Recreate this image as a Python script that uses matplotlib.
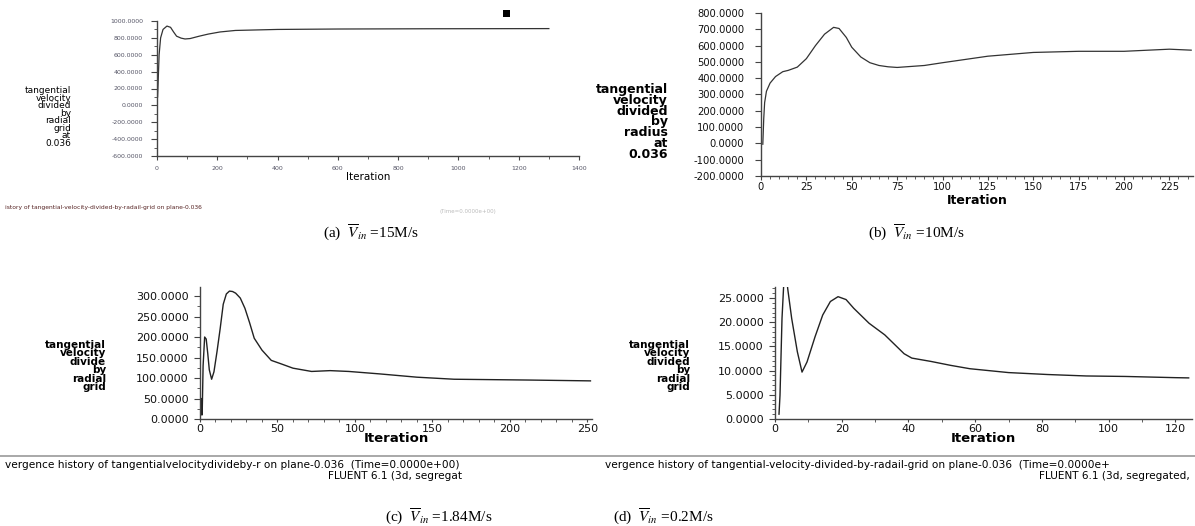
import numpy as np
import matplotlib
matplotlib.use("Agg")
import matplotlib.pyplot as plt
from matplotlib.ticker import MultipleLocator, FormatStrFormatter
from matplotlib.patches import Rectangle

plt.rcParams['font.family'] = ['DejaVu Sans']
plt.rcParams['mathtext.fontset'] = 'stix'

W, H = 1195, 526

# panel (a): V_in = 15 M/s
iter_a = [2, 4, 7, 12, 20, 33, 45, 55, 65, 80, 93, 110, 140, 170, 209, 260, 400, 600, 900, 1300]
vel_a = [100, 300, 600, 800, 900, 940, 925, 870, 820, 797, 787, 792, 820, 845, 870, 888, 900, 905, 908, 910]

# panel (b): V_in = 10 M/s
iter_b = [1, 1.5, 2, 3, 5, 8, 12, 15, 20, 25, 30, 35, 40, 43, 47, 50, 55, 60, 65, 70, 75, 90, 100, 125, 150, 175, 200, 225, 237]
vel_b = [-5, 150, 250, 320, 370, 410, 440, 448, 468, 520, 600, 670, 712, 705, 650, 590, 530, 495, 478, 470, 466, 478, 495, 535, 558, 565, 565, 578, 572]

# panel (c): V_in = 1.84 M/s
iter_c = [0.5, 1, 1.4, 2, 3, 4, 5, 6, 7.5, 9, 11, 13, 15, 17, 19, 21, 23, 26, 29, 32, 35, 40, 46, 52, 60, 72, 84, 96, 116, 140, 164, 213, 252]
vel_c = [10, 50, 10, 130, 200, 195, 160, 120, 97, 115, 165, 220, 280, 305, 312, 311, 307, 295, 270, 235, 197, 168, 143, 135, 124, 116, 118, 116, 110, 102, 97, 95, 93]

# panel (d): V_in = 0.2 M/s
iter_d = [1.2, 1.5, 2.1, 2.7, 3.3, 3.8, 5, 6.7, 8.1, 9.6, 12, 14.3, 16.6, 18.9, 21.3, 23.6, 28.2, 32.9, 38.7, 41, 46.8, 52.6, 58.4, 70, 81.7, 93.3, 105, 120, 124]
vel_d = [1.0, 4.9, 20.8, 29, 31, 27, 20.8, 13.9, 9.7, 11.8, 17, 21.5, 24.3, 25.3, 24.7, 22.9, 19.8, 17.4, 13.5, 12.6, 11.9, 11.1, 10.4, 9.6, 9.2, 8.9, 8.8, 8.55, 8.5]

captions = [r"(a)  $\overline{V}_{in}$ =15M/s", r"(b)  $\overline{V}_{in}$ =10M/s",
            r"(c)  $\overline{V}_{in}$ =1.84M/s", r"(d)  $\overline{V}_{in}$ =0.2M/s"]

fig = plt.figure(figsize=(W / 100, H / 100), dpi=100)


def px_axes(left, top, right, bottom):
    return fig.add_axes([left / W, 1 - bottom / H, (right - left) / W, (bottom - top) / H])


def style(ax, fs, col, xmaj, xmin, ymaj, ymin, ypad, xpad, xlen=3):
    for s in ['top', 'right']:
        ax.spines[s].set_visible(False)
    for s in ['left', 'bottom']:
        ax.spines[s].set_color('#444444')
        ax.spines[s].set_linewidth(1.0)
    ax.xaxis.set_major_locator(MultipleLocator(xmaj))
    ax.yaxis.set_major_locator(MultipleLocator(ymaj))
    if xmin:
        ax.xaxis.set_minor_locator(MultipleLocator(xmin))
    if ymin:
        ax.yaxis.set_minor_locator(MultipleLocator(ymin))
    ax.yaxis.set_major_formatter(FormatStrFormatter('%.4f'))
    ax.tick_params(which='major', width=0.8, color='#444444', labelsize=fs, labelcolor=col)
    ax.tick_params(axis='y', which='major', length=4, pad=ypad)
    ax.tick_params(axis='x', which='major', length=xlen, pad=xpad)
    ax.tick_params(which='minor', length=2, width=0.6, color='#444444')


def ylab(x, y, text, fs, bold, ls):
    fig.text(x / W, 1 - y / H, text, ha='right', va='center', fontsize=fs,
             fontweight='bold' if bold else 'normal', linespacing=ls, multialignment='right')


def xlab(ax, y, fs, bold):
    # Fluent centres the axis title under the plot area
    pos = ax.get_position()
    fig.text(pos.x0 + pos.width / 2, 1 - y / H, "Iteration", ha='center', va='center', fontsize=fs,
             fontweight='bold' if bold else 'normal')


# (a)
ax = px_axes(157, 21, 579, 156)
ax.plot(iter_a, vel_a, color='#333333', lw=0.9)
ax.set_xlim(0, 1400)
ax.set_ylim(-600, 1000)
style(ax, 4.5, '#555566', 200, 100, 200, 100, ypad=6, xpad=4)
ylab(71, 117, "tangential\nvelocity\ndivided\nby\nradial\ngrid\nat\n0.036", 6.5, False, 0.78)
xlab(ax, 177, 7.5, False)
fig.text(5 / W, 1 - 208 / H, "istory of tangential-velocity-divided-by-radail-grid on plane-0.036",
         fontsize=4.3, color='#552222', va='center')
fig.text(440 / W, 1 - 211 / H, "(Time=0.0000e+00)", fontsize=4, color='#bbbbbb', va='center')
fig.patches.append(Rectangle((503 / W, 1 - 17 / H), 7 / W, 7 / H, transform=fig.transFigure,
                             facecolor='black', edgecolor='none'))

# (b)
ax = px_axes(761, 13, 1193, 176)
ax.plot(iter_b, vel_b, color='#333333', lw=0.9)
ax.set_xlim(0, 238)
ax.set_ylim(-200, 800)
style(ax, 7.2, '#111111', 25, 5, 100, None, ypad=8, xpad=1.5)
ylab(668, 122, "tangential\nvelocity\ndivided\nby\nradius\nat\n0.036", 9, True, 0.78)
xlab(ax, 201, 9, True)

# (c)
ax = px_axes(200, 287, 592, 419)
ax.plot(iter_c, vel_c, color='#222222', lw=1.0)
ax.set_xlim(0, 253)
ax.set_ylim(0, 322)
style(ax, 8, '#111111', 50, 10, 50, 25, ypad=4, xpad=1, xlen=2.5)
ylab(106, 366, "tangential\nvelocity\ndivide\nby\nradial\ngrid", 7.5, True, 0.8)
xlab(ax, 439, 9.5, True)

# (d)
ax = px_axes(775, 287, 1192, 419)
ax.plot(iter_d, vel_d, color='#222222', lw=1.0)
ax.set_xlim(0, 125)
ax.set_ylim(0, 27.3)
style(ax, 8, '#111111', 20, 10, 5, 1, ypad=4, xpad=1, xlen=2.5)
ylab(690, 366, "tangential\nvelocity\ndivided\nby\nradial\ngrid", 7.5, True, 0.8)
xlab(ax, 439, 9.5, True)

# footer rule and FLUENT notes
fig.add_artist(plt.Line2D([0, 1], [1 - 456 / H, 1 - 456 / H], color='#999999', lw=1.2))
fig.text(5 / W, 1 - 465 / H, "vergence history of tangentialvelocitydivideby-r on plane-0.036  (Time=0.0000e+00)",
         fontsize=7.6, va='center')
fig.text(462 / W, 1 - 476 / H, "FLUENT 6.1 (3d, segregat", fontsize=7.6, va='center', ha='right')
fig.text(605 / W, 1 - 465 / H,
         "vergence history of tangential-velocity-divided-by-radail-grid on plane-0.036  (Time=0.0000e+",
         fontsize=7.6, va='center')
fig.text(1190 / W, 1 - 476 / H, "FLUENT 6.1 (3d, segregated,", fontsize=7.6, va='center', ha='right')

# captions
cap_pos = [(323, 233), (868, 233), (385, 517), (613, 517)]
for (cx, cy), cap in zip(cap_pos, captions):
    fig.text(cx / W, 1 - cy / H, cap, fontsize=11, family='Liberation Serif', va='center')

fig.savefig("out.png", dpi=100)
